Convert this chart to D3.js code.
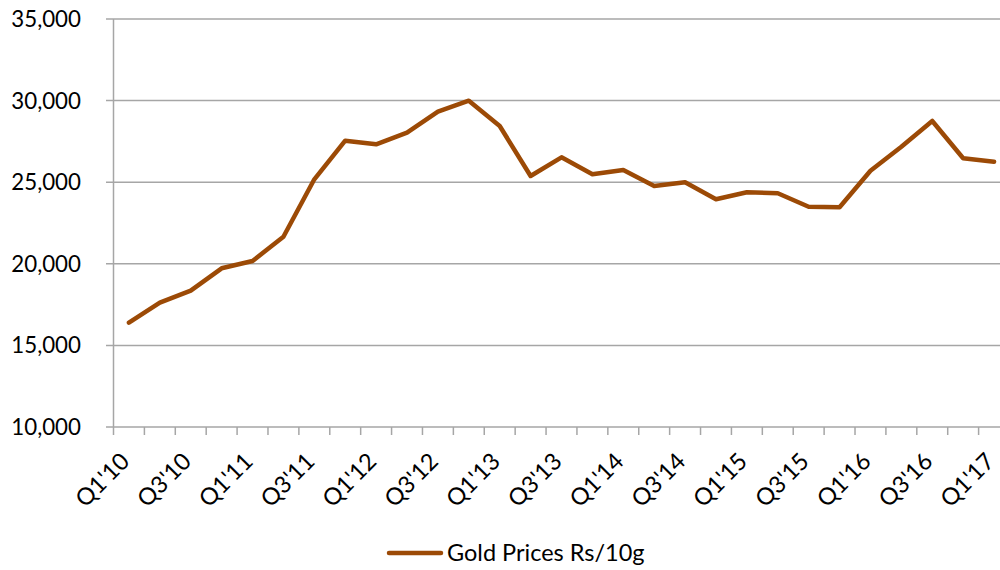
<!DOCTYPE html>
<html><head><meta charset="utf-8">
<script src="https://cdn.jsdelivr.net/npm/d3@7/dist/d3.min.js"></script>
<style>body{margin:0;background:#fff;} text{font-family:Lato, "Open Sans", sans-serif;fill:#000;}</style>
</head><body>
<svg id="c" width="1000" height="570"></svg>
<script>
const quarters = ["Q1'10","Q2'10","Q3'10","Q4'10","Q1'11","Q2'11","Q3'11","Q4'11","Q1'12","Q2'12","Q3'12","Q4'12","Q1'13","Q2'13","Q3'13","Q4'13","Q1'14","Q2'14","Q3'14","Q4'14","Q1'15","Q2'15","Q3'15","Q4'15","Q1'16","Q2'16","Q3'16","Q4'16","Q1'17"];
const goldPrices = [16390,17616,18352,19724,20172,21661,25178,27543,27320,28033,29320,29994,28444,25380,26525,25484,25748,24767,24994,23952,24381,24320,23499,23462,25705,27175,28750,26464,26256];
const yTicks = [10000,15000,20000,25000,30000,35000];
const seriesName = "Gold Prices Rs/10g";

const svg = d3.select("#c");
const x = d3.scaleBand().domain(quarters).range([113.5, 1009.5]);
const y = d3.scaleLinear().domain([10000,35000]).range([427,19]);
const gridColor = "#a6a6a6";
const lineColor = "#9C4A06";

// gridlines
svg.append("g").selectAll("line").data(yTicks).join("line")
  .attr("x1",106).attr("x2",1000)
  .attr("y1",d=>y(d)).attr("y2",d=>y(d))
  .attr("stroke",gridColor).attr("stroke-width",1.5);
// y axis line
svg.append("line").attr("x1",113.5).attr("x2",113.5).attr("y1",19).attr("y2",427)
  .attr("stroke",gridColor).attr("stroke-width",1.5);
// x ticks
const tickPos = quarters.map(q=>x(q)).concat([x.range()[1]]);
svg.append("g").selectAll("line").data(tickPos).join("line")
  .attr("x1",d=>d).attr("x2",d=>d).attr("y1",427).attr("y2",435)
  .attr("stroke",gridColor).attr("stroke-width",1.5);
// y labels
svg.append("g").selectAll("text").data(yTicks).join("text")
  .attr("x",81).attr("y",d=>y(d)).attr("text-anchor","end").attr("dy","0.36em")
  .style("font-size","22.3px").text(d=>d3.format(",")(d));
// x labels
svg.append("g").selectAll("text").data(quarters.filter((q,i)=>i%2===0)).join("text")
  .attr("transform",d=>`translate(${x(d)+x.bandwidth()/2-4},${457}) rotate(-45)`)
  .attr("text-anchor","end").attr("dy","0.35em")
  .style("font-size","23.5px").text(d=>d);
// line
const line = d3.line().x((d,i)=>x(quarters[i])+x.bandwidth()/2).y(d=>y(d));
svg.append("path").datum(goldPrices).attr("d",line).attr("fill","none")
  .attr("stroke",lineColor).attr("stroke-width",4.5).attr("stroke-linejoin","round").attr("stroke-linecap","round");
// legend
svg.append("line").attr("x1",389).attr("x2",441).attr("y1",553).attr("y2",553)
  .attr("stroke",lineColor).attr("stroke-width",4.5).attr("stroke-linecap","round");
svg.append("text").attr("x",447).attr("y",561).style("font-size","23.5px").text(seriesName);
</script>
</body></html>
